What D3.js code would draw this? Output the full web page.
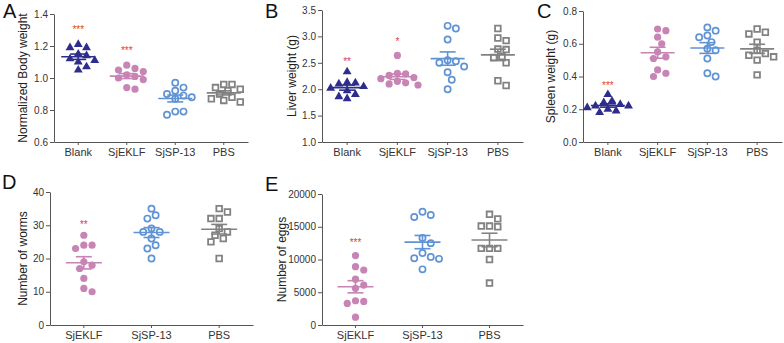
<!DOCTYPE html>
<html>
<head>
<meta charset="utf-8">
<script src="https://cdn.jsdelivr.net/npm/d3@7"></script>
<style>
  body { margin: 0; background: #fff; }
  svg { font-family: "Liberation Sans", Arial, sans-serif; }
  .tick text { fill: #333; }
  .domain, .tick line { stroke: #555; }
</style>
</head>
<body>
<div id="chart"></div>
<script>
// group names
const groups4 = ["Blank", "SjEKLF", "SjSP-13", "PBS"];
const groups3 = ["SjEKLF", "SjSP-13", "PBS"];

// values, one array per group
const bodyWeight = [
  [1.21, 1.19, 1.19, 1.15, 1.14, 1.12, 1.11, 1.10, 1.07, 1.05],
  [1.08, 1.06, 1.05, 1.04, 1.02, 1.01, 1.00, 0.99, 0.94, 0.93],
  [0.97, 0.94, 0.92, 0.90, 0.89, 0.88, 0.87, 0.79, 0.79, 0.77],
  [0.96, 0.96, 0.94, 0.93, 0.92, 0.90, 0.88, 0.87, 0.86, 0.85]
];
const liverWeight = [
  [2.33, 2.13, 2.12, 2.10, 2.05, 2.02, 1.97, 1.90, 1.86, 1.82],
  [2.64, 2.30, 2.29, 2.26, 2.22, 2.20, 2.15, 2.12, 2.10, 2.08],
  [3.20, 3.15, 2.94, 2.55, 2.53, 2.50, 2.43, 2.32, 2.18, 2.00],
  [3.15, 2.97, 2.92, 2.76, 2.75, 2.62, 2.60, 2.50, 2.16, 2.07]
];
const spleenWeight = [
  [0.29, 0.25, 0.24, 0.23, 0.22, 0.22, 0.21, 0.20, 0.19, 0.18],
  [0.69, 0.68, 0.64, 0.60, 0.55, 0.52, 0.51, 0.44, 0.42, 0.40],
  [0.70, 0.68, 0.65, 0.64, 0.61, 0.57, 0.56, 0.51, 0.42, 0.40],
  [0.69, 0.67, 0.66, 0.61, 0.56, 0.54, 0.53, 0.52, 0.50, 0.41]
];
const worms = [
  [27, 24, 24, 23, 19, 18, 17, 14, 11, 10],
  [35, 33, 32, 29, 28, 28, 26, 24, 23, 20],
  [35, 34, 32, 32, 29, 28, 27, 26, 25, 20]
];
const eggs = [
  [10600, 8900, 8400, 7000, 6100, 5600, 3700, 3600, 3300, 1200],
  [17300, 16800, 16500, 13300, 12500, 11000, 10400, 10200, 10100, 8500],
  [16900, 16200, 15100, 15100, 15000, 11700, 11700, 11700, 10000, 6400]
];

// significance marks and the value they sit at
const starsA = [["Blank", "***", 1.32], ["SjEKLF", "***", 1.19]];
const starsB = [["Blank", "**", 2.57], ["SjEKLF", "*", 2.95]];
const starsC = [["Blank", "***", 0.36]];
const starsD = [["SjEKLF", "**", 31]];
const starsE = [["SjEKLF", "***", 13000]];

const ticksA = [0.6, 0.8, 1.0, 1.2, 1.4];
const ticksB = [1.0, 1.5, 2.0, 2.5, 3.0, 3.5];
const ticksC = [0.0, 0.2, 0.4, 0.6, 0.8];
const ticksD = [0, 10, 20, 30, 40];
const ticksE = [0, 5000, 10000, 15000, 20000];

// look of each group
const style = {
  "Blank":   {color: "#2e2d8c", shape: "triangle"},
  "SjEKLF":  {color: "#c784b4", shape: "dot"},
  "SjSP-13": {color: "#5f93d4", shape: "ring"},
  "PBS":     {color: "#828282", shape: "square"}
};

const panels = [
  {letter: "A", groups: groups4, data: bodyWeight, ticks: ticksA, fmt: ".1f", stars: starsA,
   title: "Normalized Body weight", x0: 54, x1: 248, top: 14, bottom: 142, titleX: 24, lx: 3, ly: 18},
  {letter: "B", groups: groups4, data: liverWeight, ticks: ticksB, fmt: ".1f", stars: starsB,
   title: "Liver weight (g)", x0: 322, x1: 523, top: 10, bottom: 142, titleX: 293, lx: 265, ly: 18},
  {letter: "C", groups: groups4, data: spleenWeight, ticks: ticksC, fmt: ".1f", stars: starsC,
   title: "Spleen weight (g)", x0: 583, x1: 782, top: 11, bottom: 142, titleX: 552, lx: 537, ly: 18},
  {letter: "D", groups: groups3, data: worms, ticks: ticksD, fmt: "d", stars: starsD,
   title: "Number of worms", x0: 50, x1: 253, top: 192, bottom: 325, titleX: 24, lx: 2, ly: 189},
  {letter: "E", groups: groups3, data: eggs, ticks: ticksE, fmt: "d", stars: starsE,
   title: "Number of eggs", x0: 322, x1: 523, top: 194, bottom: 325, titleX: 283, lx: 265, ly: 191}
];

const width = 784, height = 343;
const svg = d3.select("#chart").append("svg")
  .attr("width", width)
  .attr("height", height);

// simple beeswarm: push points sideways until they don't overlap
function swarm(vals, y, cx, diam) {
  const placed = [];
  const order = vals.map((v, i) => i).sort((a, b) => vals[b] - vals[a]);
  order.forEach(i => {
    const py = y(vals[i]);
    for (let k = 0; k < 20; k++) {
      const off = k === 0 ? 0 : Math.ceil(k / 2) * (diam * 0.55) * (k % 2 ? 1 : -1);
      const px = cx + off;
      const hit = placed.some(p => Math.hypot(p.x - px, p.y - py) < diam);
      if (!hit) { placed.push({x: px, y: py, v: vals[i]}); break; }
    }
  });
  return placed;
}

panels.forEach(p => {
  const g = svg.append("g");

  const x = d3.scaleBand()
    .domain(p.groups)
    .range([p.x0, p.x1]);

  const y = d3.scaleLinear()
    .domain([p.ticks[0], p.ticks[p.ticks.length - 1]])
    .range([p.bottom, p.top]);

  // axes
  g.append("g")
    .attr("transform", `translate(0,${p.bottom})`)
    .call(d3.axisBottom(x).tickSizeInner(3).tickSizeOuter(0).tickPadding(3))
    .call(a => a.selectAll("text").attr("font-size", 11).attr("fill", "#222"));

  g.append("g")
    .attr("transform", `translate(${p.x0},0)`)
    .call(d3.axisLeft(y).tickValues(p.ticks).tickFormat(d3.format(p.fmt)).tickSize(4).tickSizeOuter(0).tickPadding(2))
    .call(a => a.selectAll("text").attr("font-size", 10));

  g.selectAll(".domain, .tick line").attr("stroke-width", 1);

  // y title
  g.append("text")
    .attr("transform", `translate(${p.titleX},${(p.top + p.bottom) / 2}) rotate(-90)`)
    .attr("text-anchor", "middle")
    .attr("dominant-baseline", "middle")
    .attr("font-size", 12)
    .attr("fill", "#222")
    .text(p.title);

  // panel letter
  g.append("text")
    .attr("x", p.lx)
    .attr("y", p.ly)
    .attr("font-size", 20)
    .attr("fill", "#111")
    .text(p.letter);

  p.groups.forEach((name, gi) => {
    const vals = p.data[gi];
    const st = style[name];
    const cx = x(name) + x.bandwidth() / 2;
    const mean = d3.mean(vals);
    const sem = d3.deviation(vals) / Math.sqrt(vals.length);

    const pts = swarm(vals, y, cx, 7.5);

    const marks = g.append("g");
    if (st.shape === "triangle") {
      marks.selectAll("path").data(pts).join("path")
        .attr("d", d3.symbol(d3.symbolTriangle, 34))
        .attr("transform", d => `translate(${d.x},${d.y})`)
        .attr("fill", st.color);
    } else if (st.shape === "square") {
      marks.selectAll("path").data(pts).join("path")
        .attr("d", d3.symbol(d3.symbolSquare, 32))
        .attr("transform", d => `translate(${d.x},${d.y})`)
        .attr("fill", "none")
        .attr("stroke", st.color)
        .attr("stroke-width", 1.8);
    } else {
      marks.selectAll("circle").data(pts).join("circle")
        .attr("cx", d => d.x)
        .attr("cy", d => d.y)
        .attr("r", st.shape === "dot" ? 3.6 : 3.1)
        .attr("fill", st.shape === "dot" ? st.color : "none")
        .attr("stroke", st.shape === "ring" ? st.color : "none")
        .attr("stroke-width", 1.7);
    }

    // mean and SEM
    const eb = g.append("g").attr("stroke", st.color).attr("stroke-width", 1.6).attr("fill", "none");
    const half = p.groups.length === 3 ? 18 : 17;
    eb.append("line")
      .attr("x1", cx - half).attr("x2", cx + half)
      .attr("y1", y(mean)).attr("y2", y(mean));
    eb.append("line")
      .attr("x1", cx).attr("x2", cx)
      .attr("y1", y(mean - sem)).attr("y2", y(mean + sem));
    [mean - sem, mean + sem].forEach(v => {
      eb.append("line")
        .attr("x1", cx - 8).attr("x2", cx + 8)
        .attr("y1", y(v)).attr("y2", y(v));
    });
  });

  // stars
  g.selectAll("text.star")
    .data(p.stars)
    .join("text")
    .attr("class", "star")
    .attr("x", d => x(d[0]) + x.bandwidth() / 2)
    .attr("y", d => y(d[2]) + 6)
    .attr("text-anchor", "middle")
    .attr("font-size", 10)
    .attr("fill", "#e0413b")
    .text(d => d[1]);
});
</script>
</body>
</html>
